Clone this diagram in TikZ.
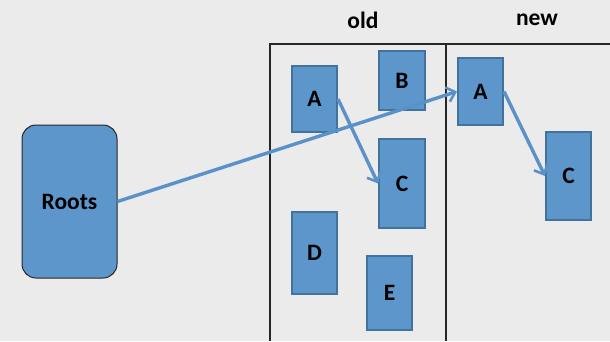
\documentclass[tikz,border=0pt]{standalone}
\usepackage{fontspec}
\setmainfont{Carlito}
\usetikzlibrary{arrows.meta}
\definecolor{bg}{RGB}{235,235,235}
\definecolor{boxfill}{RGB}{93,150,203}
\definecolor{boxedge}{RGB}{66,114,158}
\definecolor{link}{RGB}{90,145,201}
\tikzset{
  big/.style={font=\fontsize{23.5}{25}\selectfont\bfseries},
  obj/.style={draw=boxedge, line width=2pt, fill=boxfill, inner sep=0pt, big},
  ptr/.style={draw=link, line width=3.4pt,
              -{Straight Barb[length=8pt,width=15pt,line width=2.6pt]}},
}
\begin{document}
\begin{tikzpicture}[x=1pt,y=-1pt]
  \fill[bg] (0,0) rectangle (610,341);
  \useasboundingbox (0,0) rectangle (610,341);

  % generations
  \draw[line width=1.2pt, black!85] (270,341) -- (270,44) -- (610,44);
  \draw[line width=1.2pt, black!85] (446,44) -- (446,341);
  \node[big] (oldt) at (363,20) {old};
  \node[big] (newt) at (537,20) {new};

  % root set
  \node[draw=black!85, line width=1pt, fill=boxfill, rounded corners=14pt,
        minimum width=95pt, minimum height=153pt, big] (roots) at (69.5,201.5) {Roots};

  % objects in the old generation
  \node[obj, minimum width=45pt, minimum height=66pt] (oA) at (314.5,99) {A};
  \node[obj, minimum width=46pt, minimum height=59pt] (oB) at (402,80.5) {B};
  \node[obj, minimum width=46pt, minimum height=89pt] (oC) at (402,183.5) {C};
  \node[obj, minimum width=45pt, minimum height=82pt] (oD) at (314.5,253) {D};
  \node[obj, minimum width=45pt, minimum height=74pt] (oE) at (389.5,293) {E};

  % objects in the new generation
  \node[obj, minimum width=45pt, minimum height=67pt] (nA) at (480.5,91.5) {A};
  \node[obj, minimum width=45pt, minimum height=88pt] (nC) at (568.5,176) {C};

  % references
  \draw[ptr] (roots.east) -- (nA.west);
  \draw[ptr] (oA.east) -- (oC.west);
  \draw[ptr] (nA.east) -- (nC.west);
\end{tikzpicture}
\end{document}
